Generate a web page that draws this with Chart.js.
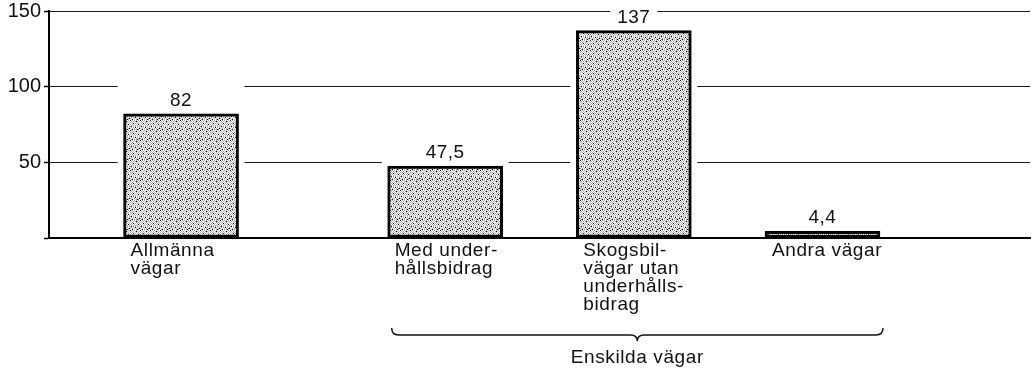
<!DOCTYPE html>
<html>
<head>
<meta charset="utf-8">
<script src="https://cdn.jsdelivr.net/npm/chart.js@4.4.1/dist/chart.umd.min.js"></script>
<style>
  html, body { margin: 0; padding: 0; background: #fff; }
  #wrap { width: 1035px; height: 374px; position: relative; }
</style>
</head>
<body>
<div id="wrap"><canvas id="chart"></canvas></div>
<script>
// road categories, lengths (1000 km) and where each bar sits on the x scale
const categories = [
  ['Allmänna', 'vägar'],
  ['Med under-', 'hållsbidrag'],
  ['Skogsbil-', 'vägar utan', 'underhålls-', 'bidrag'],
  ['Andra vägar']
];
const values = [82, 47.5, 137, 4.4];
const xPos = [1, 2.4, 3.4, 4.4];
const yTicks = [50, 100, 150];
const groupLabel = 'Enskilda vägar';
const groupMembers = [1, 2, 3];

const FONT = '"Liberation Sans", Arial, Helvetica, sans-serif';
const INK = '#111';

// stippled grey fill for the bars: grey checker with scattered black dots
const STIPPLE = [
  'B.g.g.g.g.',
  '.g.g.gBg.g',
  'g.g.g.g.g.',
  '.g.B.g.g.g',
  'g.g.g.g.B.',
  '.g.g.g.g.g',
  'gB.g.g.g.g',
  '.g.g.B.g.g',
  'g.g.g.g.gB',
  '.gB.g.gBg.'
];
function makeStipple() {
  const c = document.createElement('canvas');
  c.width = 10; c.height = 10;
  const g = c.getContext('2d');
  g.fillStyle = '#fff';
  g.fillRect(0, 0, 10, 10);
  STIPPLE.forEach((row, y) => {
    [...row].forEach((ch, x) => {
      if (ch === '.') return;
      g.fillStyle = ch === 'B' ? '#000' : '#b4b4b4';
      g.fillRect(x, y, 1, 1);
    });
  });
  return g.createPattern(c, 'repeat');
}

const fmt = v => String(v).replace('.', ',');

// white space cut out of the grid lines around each bar and its value
const barGaps = {
  id: 'barGaps',
  beforeDatasetsDraw(chart) {
    const ctx = chart.ctx;
    const area = chart.chartArea;
    const meta = chart.getDatasetMeta(0);
    ctx.save();
    ctx.fillStyle = '#fff';
    meta.data.forEach(bar => {
      const half = bar.width / 2 + 6;
      let top = bar.y - 32;
      if (top < area.top + 2) top = area.top + 2;
      ctx.fillRect(bar.x - half, top, half * 2, bar.base - 2 - top);
    });
    ctx.restore();
  },
  afterDatasetsDraw(chart) {
    const ctx = chart.ctx;
    const meta = chart.getDatasetMeta(0);
    ctx.save();
    ctx.font = '19px ' + FONT;
    ctx.letterSpacing = '0.5px';
    ctx.textAlign = 'center';
    ctx.textBaseline = 'alphabetic';
    meta.data.forEach((bar, i) => {
      const txt = fmt(values[i]);
      const w = ctx.measureText(txt).width;
      const yb = bar.y - 8;
      ctx.fillStyle = '#fff';
      ctx.fillRect(bar.x - w / 2 - 7, yb - 16, w + 14, 19);
      ctx.fillStyle = INK;
      ctx.fillText(txt, bar.x, yb);
    });
    ctx.restore();
  }
};

// category names under the bars and the brace for the private roads
const bottomText = {
  id: 'bottomText',
  afterDraw(chart) {
    const ctx = chart.ctx;
    const area = chart.chartArea;
    const meta = chart.getDatasetMeta(0);
    ctx.save();
    ctx.font = '19px ' + FONT;
    ctx.letterSpacing = '0.6px';
    ctx.fillStyle = INK;
    ctx.textAlign = 'left';
    ctx.textBaseline = 'top';
    meta.data.forEach((bar, i) => {
      const x0 = bar.x - bar.width / 2 + 7;
      categories[i].forEach((line, k) => {
        ctx.fillText(line, x0, area.bottom + 3 + k * 18);
      });
    });

    const first = meta.data[groupMembers[0]];
    const last = meta.data[groupMembers[groupMembers.length - 1]];
    const x1 = first.x - first.width / 2 + 4;
    const x2 = last.x + last.width / 2 + 3;
    const xm = (x1 + x2) / 2;
    const yb = area.bottom + 97;
    ctx.strokeStyle = INK;
    ctx.lineWidth = 1.5;
    ctx.beginPath();
    ctx.moveTo(x1, yb - 7);
    ctx.quadraticCurveTo(x1, yb, x1 + 7, yb);
    ctx.lineTo(xm - 7, yb);
    ctx.quadraticCurveTo(xm, yb, xm, yb + 6);
    ctx.quadraticCurveTo(xm, yb, xm + 7, yb);
    ctx.lineTo(x2 - 7, yb);
    ctx.quadraticCurveTo(x2, yb, x2, yb - 7);
    ctx.stroke();

    ctx.textAlign = 'center';
    ctx.textBaseline = 'middle';
    ctx.fillText(groupLabel, xm, yb + 23);
    ctx.restore();
  }
};

new Chart(document.getElementById('chart'), {
  type: 'bar',
  data: {
    datasets: [{
      data: values.map((v, i) => ({ x: xPos[i], y: v })),
      backgroundColor: makeStipple(),
      borderColor: '#000',
      borderWidth: 3,
      borderSkipped: false,
      barThickness: 115
    }]
  },
  options: {
    responsive: true,
    maintainAspectRatio: false,
    animation: false,
    events: [],
    layout: { padding: { top: 11, right: 5, left: 0, bottom: 0 } },
    plugins: { legend: { display: false }, tooltip: { enabled: false } },
    scales: {
      x: {
        type: 'linear',
        offset: false,
        min: 0.3,
        max: 5.5,
        grid: { display: false },
        ticks: { display: false },
        border: { display: true, color: '#000', width: 2 },
        afterFit(scale) { scale.height = 136; }
      },
      y: {
        min: 0,
        max: 150,
        afterBuildTicks(scale) {
          scale.ticks = [0].concat(yTicks).map(v => ({ value: v }));
        },
        ticks: {
          padding: 3,
          color: INK,
          font: { family: FONT, size: 20 },
          callback: v => (v === 0 ? '' : String(v))
        },
        grid: {
          color: '#1a1a1a',
          lineWidth: 1,
          tickLength: 5,
          tickColor: '#000',
          tickWidth: 1.5
        },
        border: { display: true, color: '#000', width: 2 },
        afterFit(scale) {
          scale.width = 49;
          scale.paddingTop = 0;
        }
      }
    }
  },
  plugins: [barGaps, bottomText]
});
</script>
</body>
</html>
